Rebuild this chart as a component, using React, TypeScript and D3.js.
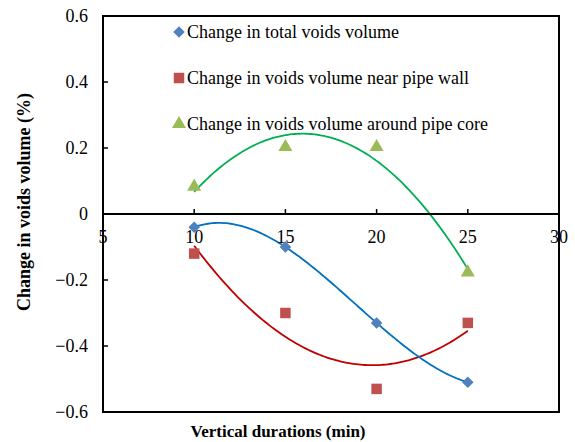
import React from "react";
import * as d3 from "d3";

// Vertical vibration duration (min)
const durations = [10, 15, 20, 25];
// Change in voids volume (%)
const totalVoids = [-0.04, -0.1, -0.33, -0.51];
const nearWall = [-0.12, -0.3, -0.53, -0.33];
const aroundCore = [0.08, 0.2, 0.2, -0.18];

const xTicks = [5, 10, 15, 20, 25, 30];
const yTicks = [-0.6, -0.4, -0.2, 0, 0.2, 0.4, 0.6];

const seriesNames = [
  "Change in total voids volume",
  "Change in voids volume near pipe wall",
  "Change in voids volume around pipe core",
];

// Least-squares polynomial trendline coefficients (c0 + c1 x + c2 x^2 + ...)
function polyFit(xs: number[], ys: number[], order: number): number[] {
  const n = order + 1;
  const A: number[][] = [];
  for (let i = 0; i < n; i++) {
    const row: number[] = [];
    for (let j = 0; j < n; j++) {
      row.push(d3.sum(xs, (x) => Math.pow(x, i + j)));
    }
    row.push(d3.sum(xs.map((x, k) => Math.pow(x, i) * ys[k])));
    A.push(row);
  }
  for (let c = 0; c < n; c++) {
    let p = c;
    for (let r = c + 1; r < n; r++) if (Math.abs(A[r][c]) > Math.abs(A[p][c])) p = r;
    [A[c], A[p]] = [A[p], A[c]];
    for (let r = 0; r < n; r++) {
      if (r === c) continue;
      const f = A[r][c] / A[c][c];
      for (let k = c; k <= n; k++) A[r][k] -= f * A[c][k];
    }
  }
  return A.map((row, i) => row[n] / row[i]);
}

function trend(xs: number[], ys: number[], order: number): [number, number][] {
  const coef = polyFit(xs, ys, order);
  const [lo, hi] = d3.extent(xs) as [number, number];
  return d3.range(0, 121).map((i) => {
    const x = lo + ((hi - lo) * i) / 120;
    const y = coef.reduce((s, c, k) => s + c * Math.pow(x, k), 0);
    return [x, y];
  });
}

const FAMILY = "Liberation Serif";
const serifStyle = { fontFamily: `"${FAMILY}"` };

export default function App() {
  const W = 575;
  const H = 442;
  const left = 103;
  const right = 559;
  const top = 16;
  const bottom = 412;

  const x = d3.scaleLinear().domain([5, 30]).range([left, right]);
  const y = d3.scaleLinear().domain([-0.6, 0.6]).range([bottom, top]);

  const line = d3
    .line<[number, number]>()
    .x((d) => x(d[0]))
    .y((d) => y(d[1]))
    .curve(d3.curveLinear);

  const blueMark = "#4F81BD";
  const redMark = "#C0504D";
  const greenMark = "#9BBB59";

  const diamond = d3.symbol().type(d3.symbolDiamond2).size(85)();
  const square = d3.symbol().type(d3.symbolSquare).size(110)();
  const triangle = d3.symbol().type(d3.symbolTriangle).size(85)();

  const legendRows = [
    { name: seriesNames[0], path: diamond, color: blueMark, y: 32 },
    { name: seriesNames[1], path: square, color: redMark, y: 78 },
    { name: seriesNames[2], path: triangle, color: greenMark, y: 124 },
  ];

  return (
    <div style={{ position: "absolute", left: 0, top: 0, ...serifStyle }}>
      <svg width={W} height={H} style={{ display: "block", background: "#fff" }}>
        {/* trendlines */}
        <path d={line(trend(durations, aroundCore, 2)) || ""} fill="none" stroke="#00B050" strokeWidth={1.8} />
        <path d={line(trend(durations, nearWall, 2)) || ""} fill="none" stroke="#C00000" strokeWidth={1.8} />
        <path d={line(trend(durations, totalVoids, 3)) || ""} fill="none" stroke="#0070C0" strokeWidth={1.8} />

        {/* data markers */}
        {durations.map((d, i) => (
          <path key={"g" + i} d={triangle} transform={`translate(${x(d)},${y(aroundCore[i]) - 1})`} fill={greenMark} />
        ))}
        {durations.map((d, i) => (
          <path key={"r" + i} d={square} transform={`translate(${x(d)},${y(nearWall[i])})`} fill={redMark} />
        ))}
        {durations.map((d, i) => (
          <path key={"b" + i} d={diamond} transform={`translate(${x(d)},${y(totalVoids[i])})`} fill={blueMark} />
        ))}

        {/* plot frame */}
        <rect x={left} y={top} width={right - left} height={bottom - top} fill="none" stroke="#000" strokeWidth={2} />

        {/* horizontal axis at zero */}
        <line x1={left} x2={right} y1={y(0)} y2={y(0)} stroke="#000" strokeWidth={2} />
        {xTicks.map((t) => (
          <g key={"xt" + t}>
            <line x1={x(t)} x2={x(t)} y1={y(0)} y2={y(0) - 5} stroke="#000" strokeWidth={1.5} />
            <text x={x(t)} y={y(0) + 29} textAnchor="middle" fontSize={18} fill="#000" style={serifStyle}>
              {String(t)}
            </text>
          </g>
        ))}

        {/* vertical axis */}
        {yTicks.map((t) => (
          <g key={"yt" + t}>
            <line x1={left} x2={left + 5} y1={y(t)} y2={y(t)} stroke="#000" strokeWidth={1.5} />
            <text x={88} y={y(t) + 6} textAnchor="end" fontSize={18} fill="#000" style={serifStyle}>
              {t === 0 ? "0" : d3.format(".1f")(t)}
            </text>
          </g>
        ))}

        {/* axis titles */}
        <text x={278} y={437} textAnchor="middle" fontSize={17} fontWeight="bold" fill="#000" style={serifStyle}>
          Vertical durations (min)
        </text>
        <text
          transform={`translate(30,202) rotate(-90)`}
          textAnchor="middle"
          fontSize={18}
          fontWeight="bold"
          fill="#000"
          style={serifStyle}
        >
          Change in voids volume (%)
        </text>

        {/* legend */}
        {legendRows.map((r) => (
          <g key={r.name}>
            <path d={r.path} transform={`translate(179,${r.y})`} fill={r.color} />
            <text x={187} y={r.y + 6} fontSize={18} fill="#000" style={serifStyle}>
              {r.name}
            </text>
          </g>
        ))}
      </svg>
    </div>
  );
}
